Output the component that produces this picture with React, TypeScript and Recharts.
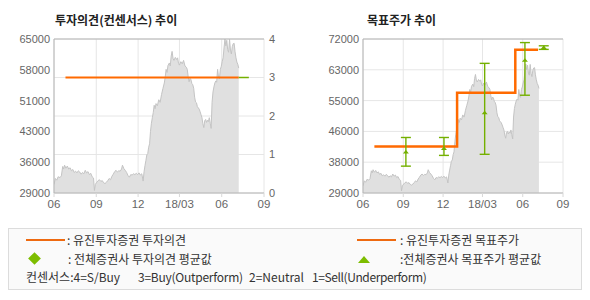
import React from 'react';
import {
  ComposedChart,
  Area,
  Line,
  Scatter,
  ErrorBar,
  XAxis,
  YAxis,
  CartesianGrid,
  ReferenceLine,
} from 'recharts';

// x axis: days since 2017-06-01
const xTickDays = [0, 92, 183, 273, 365, 457];
const xTickLabels = ['06', '09', '12', '18/03', '06', '09'];

const priceDays = [
  0, 3, 6, 9, 13, 16, 19, 21, 23, 26, 29, 32, 35, 38, 41, 44, 47, 50, 53, 56, 59, 62, 65, 68, 71, 74, 77, 80, 83, 86,
  88, 90, 93, 96, 99, 102, 105, 108, 111, 114, 117, 120, 123, 126, 129, 132, 135, 138, 141, 144, 147, 149, 152, 155,
  158, 161, 164, 167, 170, 173, 176, 179, 182, 185, 188, 191, 194, 196, 198, 200, 202, 204, 206, 208, 210, 212, 214,
  216, 218, 220, 222, 225, 228, 231, 234, 237, 240, 242, 244, 246, 248, 251, 253, 255, 257, 259, 261, 264, 267, 269,
  271, 273, 276, 279, 282, 285, 288, 290, 292, 294, 296, 298, 300, 302, 304, 306, 308, 310, 312, 314, 316, 318, 320,
  322, 324, 326, 328, 330, 332, 334, 336, 338, 340, 342, 344, 346, 348, 350, 352, 354, 356, 358, 360, 362, 364, 366,
  368, 370, 372, 374, 376, 378, 380, 382, 384, 386, 388, 390, 392, 394, 396, 398, 400, 402,
];
const prices = [
  31000, 32400, 32000, 32800, 32600, 33000, 35200, 34600, 35500, 34800, 35300, 34600, 34900, 34200, 34500, 33800,
  34100, 33700, 34200, 33900, 33400, 33800, 33500, 34300, 33700, 34000, 33300, 33600, 32800, 32500, 29600, 31000,
  31500, 31900, 32100, 31700, 31900, 31400, 31200, 31500, 31900, 32400, 32100, 32900, 33400, 34000, 34300, 33900,
  34200, 34100, 34600, 35500, 34700, 34300, 33800, 33100, 32700, 33300, 33200, 33500, 33300, 33600, 33300, 33700,
  33200, 33500, 31800, 34000, 35400, 36600, 37900, 38200, 39700, 40500, 43400, 45300, 46600, 47800, 49500, 48700,
  49900, 49400, 50800, 50200, 52000, 53400, 54700, 56100, 57900, 57200, 58800, 59400, 58700, 61000, 62100, 60500,
  60000, 60700, 60200, 60600, 59300, 58900, 59700, 59200, 60000, 58700, 58400, 57900, 56200, 55000, 55800, 55500,
  54600, 54300, 53500, 51400, 50300, 50100, 49200, 48900, 48600, 48000, 47300, 46600, 45200, 44300, 45900, 46200,
  45500, 46000, 45700, 46600, 45300, 44100, 50200, 52600, 53800, 54700, 55200, 54900, 57900, 56100, 55700, 57900,
  58600, 59700, 60600, 62900, 65000, 63400, 64700, 62500, 61900, 64900, 62400, 61500, 63200, 63900, 64000, 62000,
  60600, 59600, 59100, 58200,
];

const opinionDays = [25, 402];
const opinionValues = [3, 3];
const avgOpinionDays = [402, 424];
const avgOpinionValues = [3, 3];

const targetDays = [26, 215, 348, 400];
const targetPrices = [42000, 57000, 69000, 69000];

const consensusDays = [98, 185, 278, 370, 413];
const consensusMean = [40450, 41400, 51400, 66100, 69600];
const consensusLow = [36500, 39500, 39800, 56300, 69100];
const consensusHigh = [44500, 44500, 65200, 71000, 70100];

const leftPriceTicks = [29000, 36200, 43400, 50600, 57800, 65000];
const opinionTicks = [0, 1, 2, 3, 4];
const rightPriceTicks = [29000, 37600, 46200, 54800, 63400, 72000];

const consensusNotes = ['컨센서스:4=S/Buy', '3=Buy(Outperform)', '2=Neutral', '1=Sell(Underperform)'];

const ORANGE = '#ff6a00';
const GREEN = '#74b000';
const AXIS_FONT = { fontSize: 11, fill: '#666', fontFamily: '"Liberation Sans", Arial, sans-serif' };
const KFONT = '"Noto Sans CJK KR", "Noto Sans", sans-serif';

const priceData = priceDays.map((x, i) => ({ x, price: prices[i] }));
const opinionData = opinionDays.map((x, i) => ({ x, op: opinionValues[i] }));
const avgOpinionData = avgOpinionDays.map((x, i) => ({ x, avg: avgOpinionValues[i] }));
const targetData = targetDays.map((x, i) => ({ x, target: targetPrices[i] }));
const consensusData = consensusDays.map((x, i) => ({
  x,
  mean: consensusMean[i],
  err: [consensusMean[i] - consensusLow[i], consensusHigh[i] - consensusMean[i]],
}));

const fmtX = (v: number) => {
  const i = xTickDays.indexOf(v);
  return i >= 0 ? xTickLabels[i] : '';
};
const fmtPrice = (v: number) => String(Math.round(v / 1000) * 1000);

const MeanMarker = (props: any) => {
  const { cx, cy } = props;
  if (cx == null || cy == null) return null;
  return <path d={`M${cx - 3},${cy + 1.5}L${cx + 3},${cy + 1.5}L${cx},${cy - 2}Z`} fill={GREEN} />;
};

const xAxisProps = {
  dataKey: 'x',
  type: 'number' as const,
  domain: [0, 457],
  ticks: xTickDays,
  interval: 0 as const,
  tickFormatter: fmtX,
  height: 27,
  tickSize: 4,
  tickMargin: 3,
  stroke: '#b4b4b4',
  tickLine: { stroke: '#d8d8d8' },
  tick: { ...AXIS_FONT, fontSize: 11.5 },
  allowDataOverflow: true,
};

function LeftChart() {
  return (
    <ComposedChart width={290} height={220} margin={{ top: 39, right: 0, bottom: 0, left: 0 }}>
      <CartesianGrid stroke="#e6e6e6" yAxisId="r" />
      <XAxis {...xAxisProps} />
      <YAxis
        yAxisId="l"
        width={54}
        domain={[29000, 65000]}
        ticks={leftPriceTicks}
        interval={0}
        tickFormatter={fmtPrice}
        tickSize={0}
        tickMargin={4}
        tick={AXIS_FONT}
        axisLine={{ stroke: '#b4b4b4' }}
        allowDataOverflow
      />
      <YAxis
        yAxisId="r"
        orientation="right"
        width={26}
        domain={[0, 4]}
        ticks={opinionTicks}
        interval={0}
        tickSize={0}
        tickMargin={5}
        tick={AXIS_FONT}
        axisLine={false}
        allowDataOverflow
      />
      <ReferenceLine yAxisId="r" y={4} stroke="#b4b4b4" />
      <Area
        yAxisId="l"
        data={priceData}
        dataKey="price"
        type="linear"
        stroke="#c4c4c4"
        strokeWidth={1}
        fill="#e0e0e0"
        fillOpacity={1}
        isAnimationActive={false}
        dot={false}
        activeDot={false}
      />
      <Line
        yAxisId="r"
        data={opinionData}
        dataKey="op"
        type="linear"
        stroke={ORANGE}
        strokeWidth={2.2}
        dot={false}
        activeDot={false}
        isAnimationActive={false}
      />
      <Line
        yAxisId="r"
        data={avgOpinionData}
        dataKey="avg"
        type="linear"
        stroke={GREEN}
        strokeWidth={1.5}
        dot={false}
        activeDot={false}
        isAnimationActive={false}
      />
    </ComposedChart>
  );
}

function RightChart() {
  return (
    <ComposedChart width={290} height={220} margin={{ top: 39, right: 17, bottom: 0, left: 0 }}>
      <CartesianGrid stroke="#e6e6e6" />
      <XAxis {...xAxisProps} />
      <YAxis
        width={73}
        domain={[29000, 72000]}
        ticks={rightPriceTicks}
        interval={0}
        tickFormatter={fmtPrice}
        tickSize={0}
        tickMargin={4}
        tick={AXIS_FONT}
        axisLine={{ stroke: '#b4b4b4' }}
        allowDataOverflow
      />
      <ReferenceLine y={72000} stroke="#b4b4b4" />
      <Area
        data={priceData}
        dataKey="price"
        type="linear"
        stroke="#c4c4c4"
        strokeWidth={1}
        fill="#e0e0e0"
        fillOpacity={1}
        isAnimationActive={false}
        dot={false}
        activeDot={false}
      />
      <Line
        data={targetData}
        dataKey="target"
        type="stepAfter"
        stroke={ORANGE}
        strokeWidth={2.5}
        dot={false}
        activeDot={false}
        isAnimationActive={false}
      />
      <Scatter data={consensusData} dataKey="mean" shape={<MeanMarker />} isAnimationActive={false}>
        <ErrorBar dataKey="err" direction="y" width={5} stroke={GREEN} strokeWidth={1.4} isAnimationActive={false} />
      </Scatter>
    </ComposedChart>
  );
}

const legendText: React.CSSProperties = {
  position: 'absolute',
  fontSize: 12,
  color: '#333',
  fontFamily: KFONT,
  whiteSpace: 'nowrap',
  lineHeight: '14px',
};

const noteLefts = [26, 138, 249, 312];
const noteSpacing = [0, -0.25, 0, -0.4];

export default function App() {
  return (
    <div style={{ position: 'absolute', left: 0, top: 0, width: 590, height: 300, background: '#fff' }}>
      <div
        style={{
          position: 'absolute',
          left: 55,
          top: 12,
          fontSize: 12,
          fontWeight: 'bold',
          color: '#222',
          fontFamily: KFONT,
          lineHeight: '16px',
          whiteSpace: 'nowrap',
        }}
      >
        투자의견(컨센서스) 추이
      </div>
      <div
        style={{
          position: 'absolute',
          left: 367,
          top: 12,
          fontSize: 12,
          fontWeight: 'bold',
          color: '#222',
          fontFamily: KFONT,
          lineHeight: '16px',
          whiteSpace: 'nowrap',
        }}
      >
        목표주가 추이
      </div>
      <div style={{ position: 'absolute', left: 0, top: 0 }}>
        <LeftChart />
      </div>
      <div style={{ position: 'absolute', left: 290, top: 0 }}>
        <RightChart />
      </div>
      <div
        style={{
          position: 'absolute',
          left: 8,
          top: 228,
          width: 572,
          height: 60,
          border: '1px solid #dcdcdc',
          background: '#fafafa',
        }}
      />
      <div style={{ position: 'absolute', left: 26, top: 239, width: 39, height: 2, background: '#ee6a10' }} />
      <div style={{ ...legendText, left: 67, top: 233 }}>: 유진투자증권 투자의견</div>
      <div
        style={{
          position: 'absolute',
          left: 30,
          top: 254,
          width: 9,
          height: 9,
          background: '#7dbd00',
          transform: 'rotate(45deg)',
        }}
      />
      <div style={{ ...legendText, left: 68, top: 252 }}>: 전체증권사 투자의견 평균값</div>
      {consensusNotes.map((t, i) => (
        <div key={t} style={{ ...legendText, left: noteLefts[i], top: 270, letterSpacing: noteSpacing[i] }}>
          {t}
        </div>
      ))}
      <div style={{ position: 'absolute', left: 357, top: 239, width: 39, height: 2, background: '#ee6a10' }} />
      <div style={{ ...legendText, left: 400, top: 233 }}>: 유진투자증권 목표주가</div>
      <svg style={{ position: 'absolute', left: 358, top: 255 }} width={13} height={9}>
        <path d="M0,8L12,8L6,1Z" fill="#7dbd00" />
      </svg>
      <div style={{ ...legendText, left: 400, top: 252 }}>:전체증권사 목표주가 평균값</div>
    </div>
  );
}
